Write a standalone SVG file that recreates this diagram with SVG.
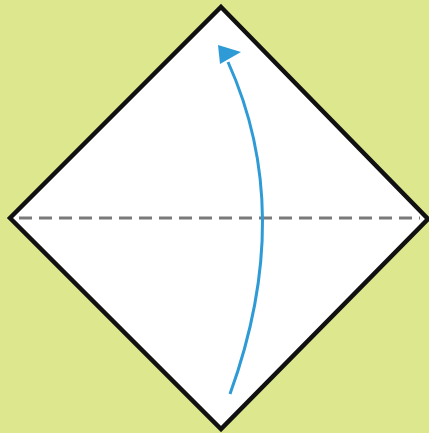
<svg xmlns="http://www.w3.org/2000/svg" width="429" height="433" viewBox="0 0 429 433">
<style>
.paper{fill:#ffffff;stroke:#111111;stroke-width:4.5;stroke-linejoin:miter}
.fold{stroke:#7a7a7a;stroke-width:3;stroke-dasharray:13 7;fill:none}
.arrow{stroke:#2e9bd6;stroke-width:3;fill:none}
.head{fill:#2e9bd6}
</style>
<rect width="429" height="433" fill="#dde78e"/>
<g id="paper"><polygon class="paper" points="221,7 428,219 221,429 10,218"/></g>
<g id="connectors">
<line class="fold" x1="19" y1="218" x2="420" y2="218"/>
<path class="arrow" d="M230,394 Q296,212 228,62"/>
<polygon class="head" points="218,45 241,52 220,64"/>
</g>
</svg>
